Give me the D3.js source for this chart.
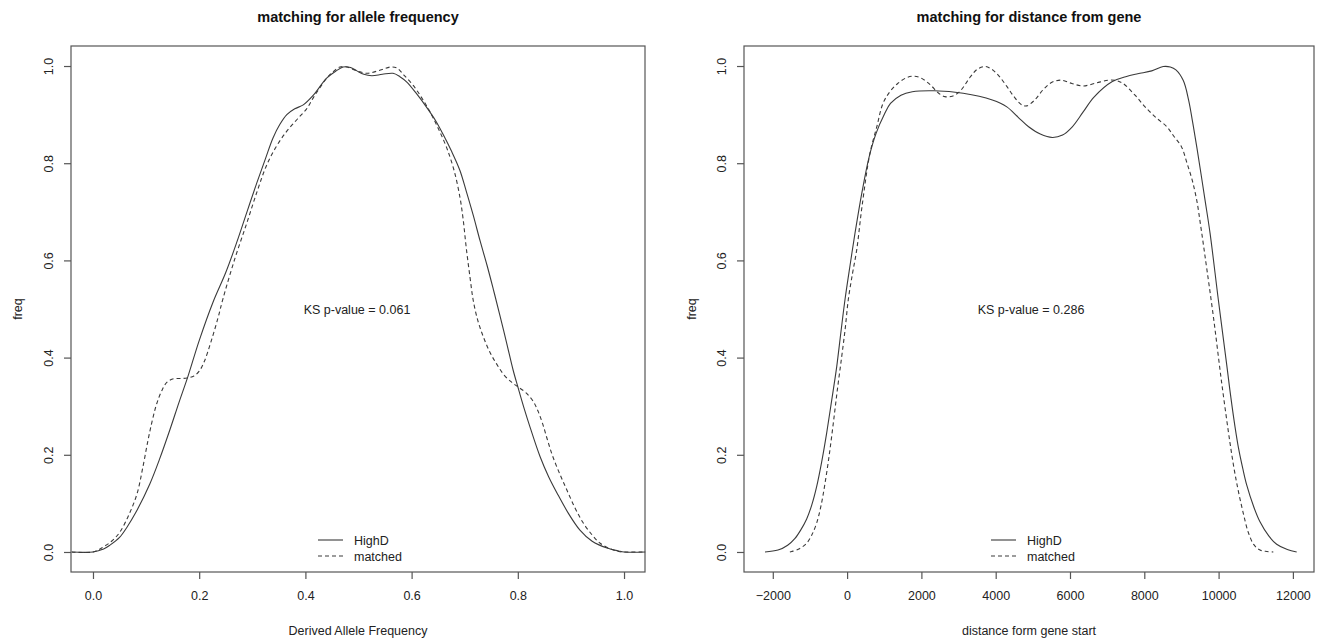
<!DOCTYPE html>
<html>
<head>
<meta charset="utf-8">
<script src="https://cdn.jsdelivr.net/npm/d3@7/dist/d3.min.js"></script>
<style>
  html, body { margin: 0; padding: 0; background: #fff; }
  svg { display: block; font-family: "Liberation Sans", Arial, sans-serif; }
</style>
</head>
<body>
<svg id="chart" width="1326" height="643"></svg>
<script>
// ---------------- DATA ----------------
const leftTitle = "matching for allele frequency";
const rightTitle = "matching for distance from gene";
const leftXLabel = "Derived Allele Frequency";
const rightXLabel = "distance form gene start";
const yLabel = "freq";
const seriesNames = ["HighD", "matched"];
const leftKS = "KS p-value = 0.061";
const rightKS = "KS p-value = 0.286";

const leftXTicks = [0.0, 0.2, 0.4, 0.6, 0.8, 1.0];
const rightXTicks = [-2000, 0, 2000, 4000, 6000, 8000, 10000, 12000];
const yTicks = [0.0, 0.2, 0.4, 0.6, 0.8, 1.0];

// Left panel: HighD (solid) [x, freq]
const leftHighD = [
  [-0.04,0],[0.0,0],[0.02,0.006],[0.032,0.014],[0.05,0.03],[0.064,0.051],[0.08,0.08],
  [0.107,0.14],[0.125,0.19],[0.145,0.252],[0.162,0.308],[0.179,0.362],[0.2,0.435],
  [0.226,0.514],[0.25,0.575],[0.271,0.638],[0.29,0.70],[0.309,0.761],[0.325,0.81],
  [0.339,0.852],[0.352,0.88],[0.365,0.9],[0.38,0.912],[0.396,0.92],[0.415,0.94],
  [0.44,0.975],[0.458,0.99],[0.471,0.998],[0.485,0.997],[0.497,0.99],[0.51,0.983],
  [0.525,0.98],[0.545,0.983],[0.565,0.985],[0.578,0.978],[0.591,0.967],[0.61,0.942],
  [0.629,0.914],[0.645,0.888],[0.659,0.86],[0.675,0.825],[0.691,0.785],[0.703,0.742],
  [0.716,0.693],[0.729,0.64],[0.742,0.59],[0.754,0.54],[0.766,0.488],[0.779,0.43],
  [0.791,0.375],[0.80,0.34],[0.812,0.295],[0.823,0.257],[0.842,0.196],[0.858,0.155],
  [0.874,0.121],[0.895,0.08],[0.917,0.045],[0.94,0.022],[0.968,0.008],[0.99,0.002],
  [1.0,0],[1.04,0]
];
// Left panel: matched (dashed)
const leftMatched = [
  [-0.04,0],[0.0,0],[0.019,0.01],[0.035,0.022],[0.05,0.04],[0.067,0.075],[0.083,0.12],
  [0.094,0.175],[0.104,0.232],[0.112,0.272],[0.12,0.305],[0.13,0.333],[0.139,0.349],
  [0.15,0.356],[0.165,0.357],[0.177,0.358],[0.19,0.362],[0.2,0.372],[0.21,0.393],
  [0.222,0.432],[0.235,0.48],[0.245,0.522],[0.267,0.603],[0.29,0.678],[0.31,0.745],
  [0.327,0.796],[0.345,0.834],[0.365,0.866],[0.385,0.891],[0.403,0.913],[0.415,0.935],
  [0.427,0.955],[0.44,0.975],[0.452,0.988],[0.465,0.998],[0.478,0.998],[0.49,0.993],
  [0.503,0.988],[0.516,0.985],[0.53,0.988],[0.545,0.993],[0.56,0.998],[0.572,0.996],
  [0.585,0.982],[0.603,0.96],[0.62,0.933],[0.635,0.905],[0.65,0.872],[0.666,0.832],
  [0.68,0.785],[0.691,0.73],[0.697,0.685],[0.703,0.625],[0.71,0.565],[0.716,0.518],
  [0.725,0.475],[0.735,0.443],[0.747,0.412],[0.76,0.387],[0.775,0.363],[0.79,0.348],
  [0.80,0.34],[0.815,0.328],[0.829,0.31],[0.838,0.29],[0.847,0.263],[0.856,0.23],
  [0.866,0.196],[0.88,0.158],[0.893,0.126],[0.908,0.09],[0.923,0.06],[0.94,0.035],
  [0.955,0.018],[0.975,0.006],[0.99,0.001],[1.0,0],[1.04,0]
];
// Right panel: HighD (solid)
const rightHighD = [
  [-2210,0],[-1860,0.004],[-1600,0.014],[-1402,0.028],[-1250,0.045],[-1088,0.068],
  [-950,0.097],[-818,0.135],[-680,0.187],[-549,0.245],[-415,0.312],[-280,0.381],
  [-170,0.45],[-57,0.519],[80,0.59],[213,0.656],[400,0.74],[600,0.815],[778,0.861],
  [1000,0.90],[1168,0.923],[1450,0.94],[1755,0.947],[2340,0.949],[3125,0.944],
  [3909,0.930],[4300,0.916],[4600,0.895],[4886,0.875],[5200,0.86],[5524,0.853],
  [5800,0.858],[6062,0.875],[6350,0.905],[6646,0.936],[7139,0.968],[7500,0.978],
  [7823,0.984],[8200,0.99],[8509,0.999],[8700,0.998],[8851,0.992],[9050,0.97],
  [9193,0.93],[9300,0.885],[9420,0.83],[9635,0.724],[9770,0.656],[9993,0.519],
  [10219,0.385],[10330,0.318],[10441,0.258],[10540,0.212],[10650,0.172],[10756,0.138],
  [10950,0.092],[11114,0.062],[11350,0.033],[11563,0.016],[11850,0.005],[12102,0]
];
// Right panel: matched (dashed)
const rightMatched = [
  [-1540,0],[-1491,0.001],[-1300,0.006],[-1088,0.018],[-950,0.035],[-818,0.06],
  [-700,0.096],[-595,0.141],[-480,0.2],[-371,0.265],[-260,0.335],[-145,0.402],
  [-50,0.46],[32,0.519],[150,0.575],[258,0.621],[400,0.71],[614,0.82],[800,0.875],
  [966,0.923],[1150,0.947],[1362,0.964],[1600,0.976],[1800,0.979],[2000,0.975],
  [2245,0.961],[2450,0.945],[2636,0.937],[2830,0.938],[3026,0.947],[3322,0.978],
  [3500,0.993],[3712,0.999],[3900,0.993],[4103,0.978],[4300,0.958],[4493,0.937],
  [4700,0.92],[4837,0.918],[5050,0.93],[5274,0.951],[5500,0.966],[5758,0.971],
  [6050,0.964],[6350,0.959],[6700,0.965],[7040,0.971],[7250,0.97],[7430,0.964],
  [7750,0.94],[8021,0.916],[8300,0.895],[8607,0.875],[8800,0.855],[9000,0.834],
  [9150,0.80],[9290,0.765],[9411,0.724],[9520,0.67],[9636,0.608],[9860,0.484],
  [10085,0.347],[10308,0.224],[10420,0.17],[10532,0.125],[10670,0.078],[10801,0.04],
  [10950,0.015],[11114,0.004],[11300,0.001],[11473,0]
];

// ---------------- DRAW ----------------
const svg = d3.select("#chart");
const lineColor = "#3a3a3a";
const boxColor = "#555";
const textColor = "#222";

function panel(cfg) {
  const x = d3.scaleLinear().domain(cfg.xDomain).range([cfg.left, cfg.right]);
  const y = d3.scaleLinear().domain([-0.0412, 1.0412]).range([cfg.bottom, cfg.top]);
  const g = svg.append("g");

  // box
  g.append("rect")
    .attr("x", cfg.left).attr("y", cfg.top)
    .attr("width", cfg.right - cfg.left).attr("height", cfg.bottom - cfg.top)
    .attr("fill", "none").attr("stroke", boxColor).attr("stroke-width", 1.2);

  // x axis
  const xa = g.append("g").attr("transform", `translate(0,${cfg.bottom})`)
    .call(d3.axisBottom(x).tickValues(cfg.xTicks).tickSize(7).tickSizeOuter(0)
      .tickPadding(12).tickFormat(cfg.xFmt));
  xa.select(".domain").remove();
  xa.selectAll(".tick line").attr("stroke", boxColor).attr("stroke-width", 1.2);
  xa.selectAll(".tick text").attr("fill", textColor).style("font-size", "12.5px")
    .style("font-family", "Liberation Sans, Arial, sans-serif");

  // y axis
  const ya = g.append("g").attr("transform", `translate(${cfg.left},0)`)
    .call(d3.axisLeft(y).tickValues(yTicks).tickSize(7).tickSizeOuter(0)
      .tickFormat(d3.format(".1f")));
  ya.select(".domain").remove();
  ya.selectAll(".tick line").attr("stroke", boxColor).attr("stroke-width", 1.2);
  ya.selectAll(".tick text")
    .attr("fill", textColor).style("font-size", "12.5px")
    .style("font-family", "Liberation Sans, Arial, sans-serif")
    .attr("x", null).attr("dy", null)
    .attr("text-anchor", "middle")
    .attr("transform", `translate(${-(cfg.left - cfg.yTickX) + 4},0) rotate(-90)`);

  // curves
  const line = d3.line().x(d => x(d[0])).y(d => y(d[1])).curve(d3.curveCatmullRom.alpha(0.5));
  g.append("path").datum(cfg.solid).attr("d", line)
    .attr("fill", "none").attr("stroke", lineColor).attr("stroke-width", 1.1);
  g.append("path").datum(cfg.dashed).attr("d", line)
    .attr("fill", "none").attr("stroke", lineColor).attr("stroke-width", 1.1)
    .attr("stroke-dasharray", "4,3");

  // title
  const cx = (cfg.left + cfg.right) / 2;
  g.append("text").attr("x", cx).attr("y", 22).attr("text-anchor", "middle")
    .attr("fill", "#111").style("font-weight", "bold").style("font-size", "14.5px")
    .text(cfg.title);
  // x label
  g.append("text").attr("x", cx).attr("y", 635).attr("text-anchor", "middle")
    .attr("fill", textColor).style("font-size", "12.5px").text(cfg.xLabel);
  // y label
  g.append("text").attr("transform", `translate(${cfg.yLabelX},${(cfg.top + cfg.bottom) / 2}) rotate(-90)`)
    .attr("text-anchor", "middle").attr("fill", textColor).style("font-size", "12.5px")
    .text(yLabel);
  // KS text
  g.append("text").attr("x", cfg.ksX).attr("y", 314).attr("text-anchor", "middle")
    .attr("fill", textColor).style("font-size", "12.5px").text(cfg.ks);

  // legend
  const lg = g.append("g");
  const rows = [{name: seriesNames[0], dash: null, y: 540}, {name: seriesNames[1], dash: "4,3", y: 556}];
  rows.forEach(r => {
    lg.append("line").attr("x1", cfg.legX).attr("x2", cfg.legX + 25)
      .attr("y1", r.y).attr("y2", r.y)
      .attr("stroke", lineColor).attr("stroke-width", 1.1)
      .attr("stroke-dasharray", r.dash);
    lg.append("text").attr("x", cfg.legX + 36).attr("y", r.y + 4.5)
      .attr("fill", textColor).style("font-size", "12.5px").text(r.name);
  });
}

panel({
  left: 71, right: 645, top: 46, bottom: 572,
  xDomain: [-0.0414, 1.0395], xTicks: leftXTicks, xFmt: d3.format(".1f"),
  solid: leftHighD, dashed: leftMatched,
  title: leftTitle, xLabel: leftXLabel, ks: leftKS, ksX: 357,
  yTickX: 49, yLabelX: 22, legX: 318
});
panel({
  left: 744, right: 1314, top: 46, bottom: 572,
  xDomain: [-2775, 12568], xTicks: rightXTicks, xFmt: d3.format("d"),
  solid: rightHighD, dashed: rightMatched,
  title: rightTitle, xLabel: rightXLabel, ks: rightKS, ksX: 1031,
  yTickX: 722, yLabelX: 696, legX: 991
});
</script>
</body>
</html>
